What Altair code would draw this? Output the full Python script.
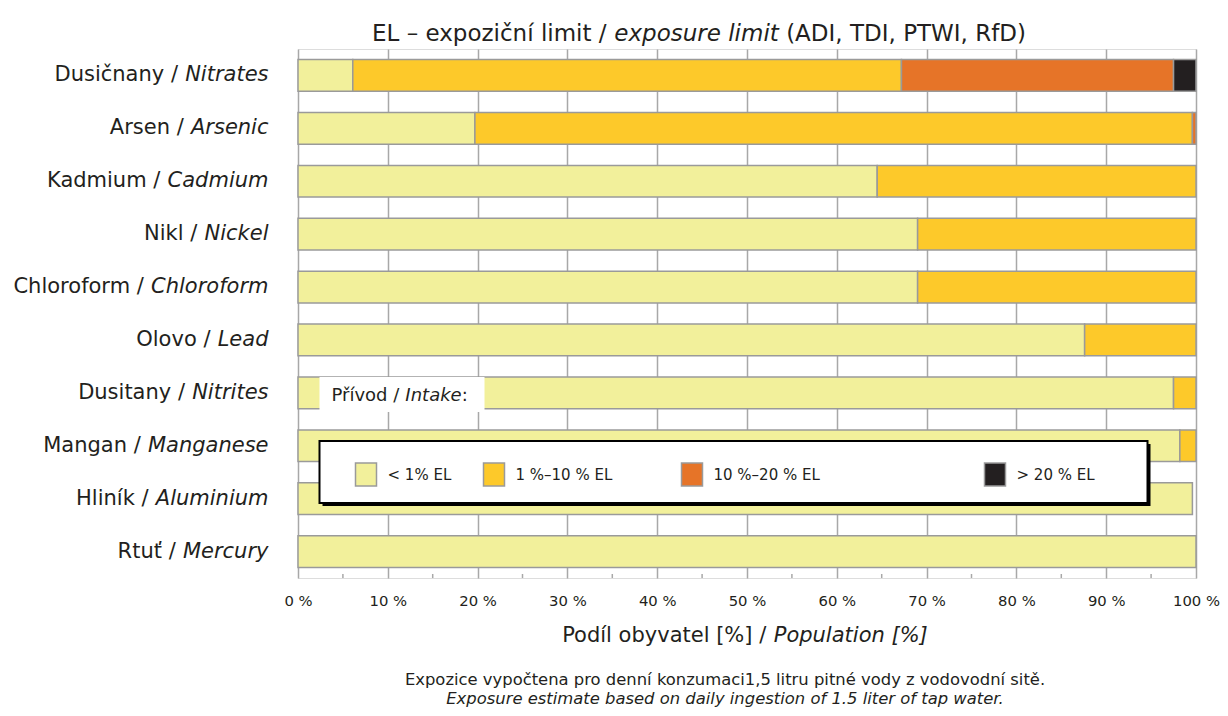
import altair as alt
import pandas as pd

# ---------------- data ----------------
substances_cz = ["Dusičnany", "Arsen", "Kadmium", "Nikl", "Chloroform",
                 "Olovo", "Dusitany", "Mangan", "Hliník", "Rtuť"]
substances_en = ["Nitrates", "Arsenic", "Cadmium", "Nickel", "Chloroform",
                 "Lead", "Nitrites", "Manganese", "Aluminium", "Mercury"]
share_lt1 = [6.1, 19.7, 64.5, 69.0, 69.0, 87.6, 97.5, 98.2, 99.6, 100.0]
share_1_10 = [61.1, 79.9, 35.5, 31.0, 31.0, 12.4, 2.5, 1.8, 0.0, 0.0]
share_10_20 = [30.3, 0.4, 0.0, 0.0, 0.0, 0.0, 0.0, 0.0, 0.0, 0.0]
share_gt20 = [2.5, 0.0, 0.0, 0.0, 0.0, 0.0, 0.0, 0.0, 0.0, 0.0]
categories = ["< 1% EL", "1 %–10 % EL", "10 %–20 % EL", "> 20 % EL"]
cat_colors = ["#f2f09b", "#fdc92a", "#e67428", "#231f20"]
x_ticks = [0, 10, 20, 30, 40, 50, 60, 70, 80, 90, 100]
minor_ticks = [5, 15, 25, 35, 45, 55, 65, 75, 85, 95]

# ---------------- layout / style ----------------
W, H = 898, 529
FONT = "DejaVu Sans"
TXT = "#231f20"
GRID = "#a8a8a8"
LABEL_SIZE = 21
LABEL_PAD = 30

_w = {' ': .318, '/': .337, ':': .337, ',': .318, '.': .318, '(': .390, ')': .390,
      '[': .390, ']': .390, '%': .950, '–': .500, '<': .838, '>': .838,
      'A': .684, 'B': .686, 'C': .698, 'D': .770, 'E': .632, 'F': .575, 'G': .775,
      'H': .752, 'I': .295, 'J': .295, 'K': .656, 'L': .557, 'M': .863, 'N': .748,
      'O': .787, 'P': .603, 'Q': .787, 'R': .695, 'S': .635, 'T': .611, 'U': .732,
      'V': .684, 'W': .989, 'X': .685, 'Y': .611, 'Z': .685,
      'a': .613, 'b': .635, 'c': .550, 'd': .635, 'e': .615, 'f': .352, 'g': .635,
      'h': .634, 'i': .278, 'j': .278, 'k': .579, 'l': .278, 'm': .974, 'n': .634,
      'o': .612, 'p': .635, 'q': .635, 'r': .411, 's': .521, 't': .392, 'u': .634,
      'v': .592, 'w': .818, 'x': .592, 'y': .592, 'z': .525,
      'č': .550, 'í': .278, 'ř': .411, 'ě': .615, 'é': .615, 'ý': .592, 'ť': .45}


def tw(s, size):
    return sum(_w.get(ch, .636) for ch in s) * size


def px2data(px):
    return px * 100.0 / W


one = pd.DataFrame({"k": [0]})

# ---------------- bars ----------------
rows = []
for i, en in enumerate(substances_en):
    for j, vals in enumerate([share_lt1, share_1_10, share_10_20, share_gt20]):
        if vals[i] > 0:
            rows.append({"en": en, "cat": categories[j], "ord": j, "pct": vals[i]})
bars_df = pd.DataFrame(rows)

x_scale = alt.Scale(domain=[0, 100], nice=False, zero=True)
y_scale = alt.Scale(paddingInner=0.4, paddingOuter=0.2)

bars = alt.Chart(bars_df).mark_bar(stroke="#9a9a9a", strokeWidth=1.5).encode(
    x=alt.X("pct:Q", stack="zero", scale=x_scale,
            axis=alt.Axis(values=x_ticks, title=None, domain=False, ticks=False,
                          grid=True, gridColor=GRID, gridWidth=1.5,
                          labelFlush=False,
                          labelExpr="datum.value + ' %'", labelFont=FONT,
                          labelFontSize=14.8, labelColor=TXT, labelPadding=15)),
    y=alt.Y("en:N", sort=substances_en, scale=y_scale,
            axis=alt.Axis(title=None, domain=False, ticks=False, grid=False,
                          labelFont=FONT, labelFontSize=LABEL_SIZE,
                          labelFontStyle="italic", labelColor=TXT,
                          labelPadding=LABEL_PAD)),
    color=alt.Color("cat:N", scale=alt.Scale(domain=categories, range=cat_colors),
                    legend=None),
    order=alt.Order("ord:Q", sort="ascending"),
)

# minor ticks on the x axis
minor = alt.Chart(pd.DataFrame({"t": minor_ticks})).mark_rule(
    color=GRID, strokeWidth=1.5).encode(
    x=alt.X("t:Q", scale=x_scale, title=None),
    y=alt.value(H), y2=alt.value(H - 4))

# roman (Czech) part of the y labels
lab_df = pd.DataFrame({
    "en": substances_en,
    "cz": [c + " /" for c in substances_cz],
    "xp": [px2data(-(LABEL_PAD + tw(e, LABEL_SIZE) + tw(" ", LABEL_SIZE)))
           for e in substances_en],
})
ylab = alt.Chart(lab_df).mark_text(
    align="right", baseline="middle", font=FONT, fontSize=LABEL_SIZE, color=TXT
).encode(x=alt.X("xp:Q", scale=x_scale, title=None),
         y=alt.Y("en:N", sort=substances_en, scale=y_scale, title=None),
         text="cz:N")


def pieces(parts, size, x_center, y_base, x_left=None):
    """parts: list of (text, italic, space_after)"""
    total = sum(tw(t, size) + (tw(" ", size) if sp else 0) for t, it, sp in parts)
    x = x_center - total / 2 if x_left is None else x_left
    layers = []
    for t, it, sp in parts:
        layers.append(alt.Chart(one).mark_text(
            text=t, align="left", baseline="alphabetic", font=FONT, fontSize=size,
            fontStyle="italic" if it else "normal", color=TXT
        ).encode(x=alt.value(x), y=alt.value(y_base)))
        x += tw(t, size) + (tw(" ", size) if sp else 0)
    return layers


title_layers = pieces([("EL – expoziční limit /", False, True),
                       ("exposure limit", True, True),
                       ("(ADI, TDI, PTWI, RfD)", False, False)], 23, 401, -8)
xtitle_layers = pieces([("Podíl obyvatel [%] /", False, True),
                        ("Population [%]", True, False)], 21, 447, 593)
foot1 = alt.Chart(one).mark_text(
    text="Expozice vypočtena pro denní konzumaci1,5 litru pitné vody z vodovodní sitě.",
    align="center", baseline="alphabetic", font=FONT, fontSize=16.4, color=TXT
).encode(x=alt.value(427), y=alt.value(636))
foot2 = alt.Chart(one).mark_text(
    text="Exposure estimate based on daily ingestion of 1.5 liter of tap water.",
    align="center", baseline="alphabetic", font=FONT, fontSize=16.4,
    fontStyle="italic", color=TXT
).encode(x=alt.value(427), y=alt.value(655))

# ---------------- legend (overlay box) ----------------
shadow = alt.Chart(one).mark_rect(color="#000000").encode(
    x=alt.value(24.5), x2=alt.value(852.5), y=alt.value(395), y2=alt.value(457))
box = alt.Chart(one).mark_rect(fill="white", stroke="#000000", strokeWidth=2).encode(
    x=alt.value(21.5), x2=alt.value(849.5), y=alt.value(392), y2=alt.value(454))
intake_bg = alt.Chart(one).mark_rect(fill="white").encode(
    x=alt.value(21.5), x2=alt.value(186.5), y=alt.value(328), y2=alt.value(363))
intake_layers = pieces([("Přívod /", False, True), ("Intake", True, False),
                        (":", False, False)], 18, 0, 352, x_left=33.5)

legend_x = [57.5, 185.5, 383.5, 686.5]
leg_df = pd.DataFrame({
    "cat": categories,
    "x0": [px2data(v) for v in legend_x],
    "x1": [px2data(v + 21) for v in legend_x],
    "xt": [px2data(v + 32) for v in legend_x],
})
leg_sw = alt.Chart(leg_df).mark_rect(stroke="#9a9a9a", strokeWidth=1.5).encode(
    x=alt.X("x0:Q", scale=x_scale, title=None), x2="x1:Q",
    y=alt.value(414), y2=alt.value(437),
    color=alt.Color("cat:N", scale=alt.Scale(domain=categories, range=cat_colors),
                    legend=None))
leg_tx = alt.Chart(leg_df).mark_text(
    align="left", baseline="middle", font=FONT, fontSize=15, color=TXT
).encode(x=alt.X("xt:Q", scale=x_scale, title=None), y=alt.value(425.5),
         text="cat:N")

chart = alt.layer(
    bars, minor, ylab, *title_layers, *xtitle_layers, foot1, foot2,
    shadow, box, intake_bg, *intake_layers, leg_sw, leg_tx
).properties(
    width=W, height=H,
    padding={"left": 290, "top": 41, "right": 24, "bottom": 130},
    autosize=alt.AutoSizeParams(type="none"),
).configure_view(
    stroke=GRID, strokeWidth=1.5
).configure(background="white")

chart.save("out.html", embed_options={"renderer": "svg", "actions": False})
